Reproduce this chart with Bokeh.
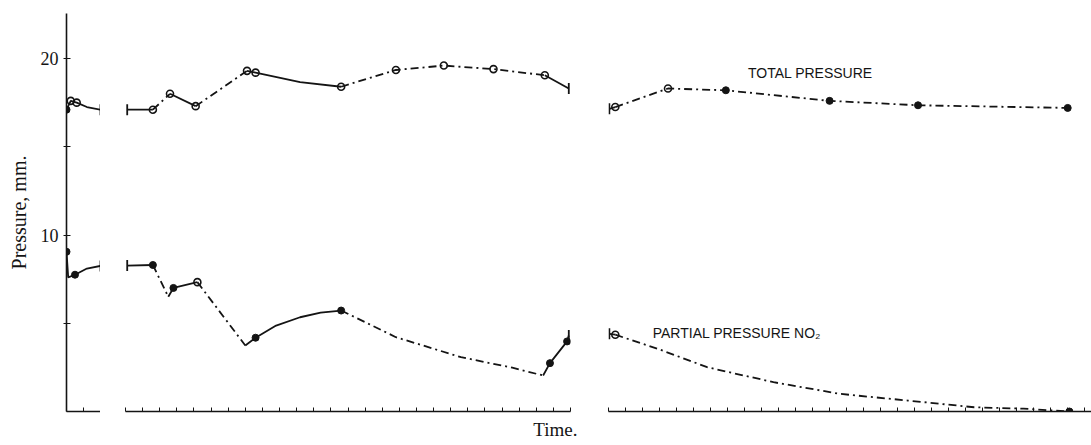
import math
from bokeh.plotting import figure
from bokeh.layouts import row
from bokeh.models import Range1d, FixedTicker, Label, Title, CustomJSTickFormatter
from bokeh.embed import file_html
from bokeh.resources import INLINE

# ---------------- data (time in arbitrary tick units per panel) ----------------
# segment style: "s" = solid (observed), "d" = dash-dot
# marker kind: "dot" filled, "open" open circle, "bar" end bar, "" none

# Panel 1
tot1_x = [0.0, 0.25, 0.6, 1.2, 2.0]
tot1_y = [17.1, 17.6, 17.5, 17.25, 17.1]
tot1_seg = ["s", "s", "s", "s"]
tot1_mk = ["dot", "open", "open", "", "bar"]

par1_x = [0.0, 0.1, 0.5, 1.2, 2.0]
par1_y = [9.05, 7.6, 7.75, 8.1, 8.25]
par1_seg = ["s", "s", "s", "s"]
par1_mk = ["dot", "", "dot", "", "bar"]

# Panel 2
tot2_x = [0.1, 1.6, 2.6, 4.1, 7.1, 7.6, 10.2, 12.6, 15.8, 18.6, 21.5, 24.5, 25.9]
tot2_y = [17.1, 17.1, 18.0, 17.3, 19.3, 19.2, 18.66, 18.4, 19.35, 19.6, 19.4, 19.05, 18.3]
tot2_seg = ["s", "d", "s", "d", "s", "s", "s", "d", "d", "d", "d", "s"]
tot2_mk = ["bar", "open", "open", "open", "open", "open", "", "open", "open", "open", "open", "open", "bar"]

par2_x = [0.1, 1.6, 2.5, 2.8, 4.2, 7.0, 7.6, 8.8, 10.2, 11.4, 12.6, 15.8, 19.6, 22.6, 24.4, 24.8, 25.8, 25.9]
par2_y = [8.27, 8.3, 6.5, 7.0, 7.33, 3.74, 4.18, 4.87, 5.34, 5.6, 5.72, 4.21, 3.08, 2.48, 2.04, 2.74, 3.97, 4.3]
par2_seg = ["s", "d", "s", "s", "d", "s", "s", "s", "s", "s", "d", "d", "d", "d", "s", "s", "s"]
par2_mk = ["bar", "dot", "", "dot", "open", "", "dot", "", "", "", "dot", "", "", "", "", "dot", "dot", "bar"]

# Panel 3
tot3_x = [0.05, 0.4, 3.5, 6.9, 13.0, 18.2, 27.0]
tot3_y = [17.15, 17.25, 18.3, 18.2, 17.6, 17.35, 17.2]
tot3_seg = ["s", "d", "d", "d", "d", "d"]
tot3_mk = ["bar", "open", "open", "dot", "dot", "dot", "dot"]

par3_x = [0.05, 0.4, 2.9, 5.8, 9.7, 13.6, 17.6, 21.5, 24.4, 27.1]
par3_y = [4.4, 4.35, 3.55, 2.51, 1.66, 1.0, 0.62, 0.24, 0.16, 0.0]
par3_seg = ["s", "d", "d", "d", "d", "d", "d", "d", "d"]
par3_mk = ["bar", "open", "", "", "", "", "", "", "", "dot"]

y_ticks = [5, 10, 15, 20]
y_labels = {5: "", 10: "10", 15: "", 20: "20"}

INK = "#141414"
SERIF = "Liberation Serif"
SANS = "Liberation Sans"
DASHDOT = "8 4 2 4"

yr = Range1d(0, 22.55)


def make_fig(xmax, frame_w, border_left, border_right=0, show_y=False):
    p = figure(frame_width=frame_w, frame_height=398,
               x_range=Range1d(0, xmax), y_range=yr,
               output_backend="svg", toolbar_location=None,
               y_axis_location="left" if show_y else None,
               min_border_left=border_left, min_border_right=border_right,
               min_border_top=13, min_border_bottom=34)
    p.outline_line_color = None
    p.grid.visible = False
    p.background_fill_color = "white"
    p.border_fill_color = "white"
    xa = p.xaxis[0]
    xa.ticker = FixedTicker(ticks=list(range(0, int(math.floor(xmax)) + 1)), minor_ticks=[])
    xa.formatter = CustomJSTickFormatter(code="return ''")
    xa.major_tick_in = 4
    xa.major_tick_out = 0
    xa.major_tick_line_color = INK
    xa.axis_line_color = INK
    xa.axis_line_width = 1.6
    xa.major_label_standoff = 0
    if show_y:
        ya = p.yaxis[0]
        ya.ticker = FixedTicker(ticks=y_ticks, minor_ticks=[])
        ya.major_label_overrides = y_labels
        ya.major_tick_in = 4
        ya.major_tick_out = 3
        ya.major_tick_line_color = INK
        ya.axis_line_color = INK
        ya.axis_line_width = 1.6
        ya.major_label_text_font = SERIF
        ya.major_label_text_font_size = "18px"
        ya.major_label_text_color = INK
        ya.axis_label = "Pressure, mm."
        ya.axis_label_text_font = SERIF
        ya.axis_label_text_font_size = "20px"
        ya.axis_label_text_font_style = "normal"
        ya.axis_label_text_color = INK
        ya.axis_label_standoff = 8
    return p


def draw(p, xs, ys, seg, mk):
    # group consecutive segments of the same style into polylines
    runs = []
    i = 0
    while i < len(seg):
        j = i
        while j + 1 < len(seg) and seg[j + 1] == seg[i]:
            j += 1
        runs.append((seg[i], xs[i:j + 2], ys[i:j + 2]))
        i = j + 1
    for style, dash in (("s", "solid"), ("d", DASHDOT)):
        rx = [r[1] for r in runs if r[0] == style]
        ry = [r[2] for r in runs if r[0] == style]
        if rx:
            p.multi_line(xs=rx, ys=ry, line_color=INK, line_width=1.8, line_dash=dash)
    dots = [k for k, m in enumerate(mk) if m == "dot"]
    opens = [k for k, m in enumerate(mk) if m == "open"]
    bars = [k for k, m in enumerate(mk) if m == "bar"]
    if opens:
        p.scatter([xs[k] for k in opens], [ys[k] for k in opens], marker="circle",
                  size=7, fill_alpha=0, line_color=INK, line_width=1.6)
    if dots:
        p.scatter([xs[k] for k in dots], [ys[k] for k in dots], marker="circle",
                  size=7, fill_color=INK, line_color=INK)
    if bars:
        p.scatter([xs[k] for k in bars], [ys[k] for k in bars], marker="dash",
                  angle=math.pi / 2, size=11, line_color=INK, line_width=1.8)


p1 = make_fig(2.0, 34, 66, show_y=True)
draw(p1, tot1_x, tot1_y, tot1_seg, tot1_mk)
draw(p1, par1_x, par1_y, par1_seg, par1_mk)

p2 = make_fig(26.0, 445, 25, border_right=14)
p2.xaxis[0].major_label_standoff = 11
draw(p2, tot2_x, tot2_y, tot2_seg, tot2_mk)
draw(p2, par2_x, par2_y, par2_seg, par2_mk)
p2.add_layout(Title(text="Time.", align="right", text_font=SERIF, text_font_size="19px",
                    text_font_style="normal", text_color=INK, offset=-7), "below")

p3 = make_fig(28.4, 483, 24)
draw(p3, tot3_x, tot3_y, tot3_seg, tot3_mk)
draw(p3, par3_x, par3_y, par3_seg, par3_mk)
p3.add_layout(Label(x=8.2, y=19.2, text="TOTAL PRESSURE", text_font=SANS,
                    text_font_size="14px", text_baseline="middle", text_color=INK))
p3.add_layout(Label(x=2.6, y=4.45, text="PARTIAL PRESSURE NO₂", text_font=SANS,
                    text_font_size="14px", text_baseline="middle", text_color=INK))

layout = row(p1, p2, p3)
open("out.html", "w").write(file_html(layout, INLINE))
